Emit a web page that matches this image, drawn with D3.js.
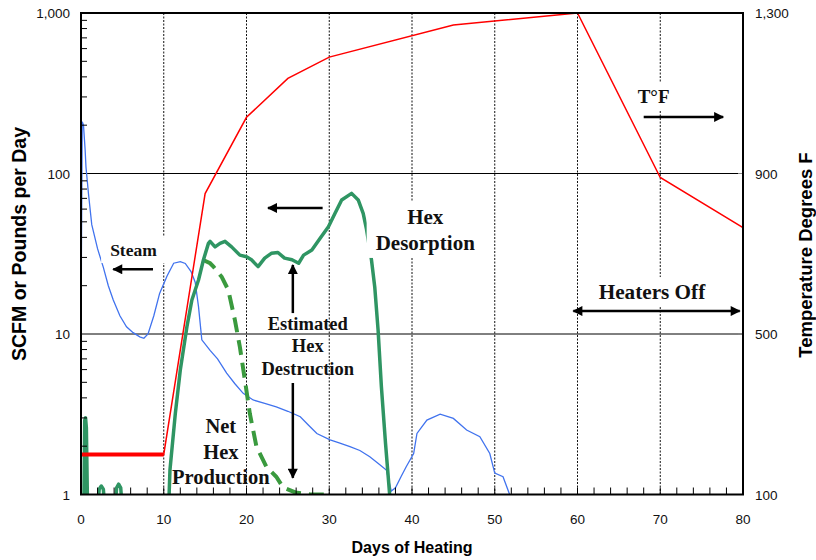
<!DOCTYPE html>
<html>
<head>
<meta charset="utf-8">
<script src="https://cdn.jsdelivr.net/npm/d3@7"></script>
<style>
  body { margin: 0; background: #fff; }
  svg { display: block; }
</style>
</head>
<body>
<div id="chart"></div>
<script>
// steam flow (left axis, log)
const steamDays = [0, 0.05, 0.15, 0.3, 0.5, 0.6, 0.9, 1.3, 2.0, 2.7, 3.3, 3.9, 4.7, 5.5, 6.3, 7.1, 7.6, 8.1, 8.8, 9.5,
  10.4, 11.2, 12.0, 12.6, 13.3, 13.8, 14.2, 14.6, 15.6, 16.5, 17.6, 18.6, 19.6, 20.8, 22.2, 23.6, 25.0, 26.5, 27.5, 28.5,
  30.1, 31.2, 32.5, 33.7, 34.9, 36.0, 36.9, 37.5, 38.0, 38.7, 39.3, 40.2, 40.6, 41.8, 43.4, 45.0, 46.6, 48.2, 49.4, 50.0, 51.0, 51.8]
const steamValues = [1, 30, 210, 200, 140, 110, 75, 48, 34, 26, 20, 16.3, 13, 11.1, 10.2, 9.6, 9.4, 10, 13, 17.9,
  23, 27.6, 28.2, 27.5, 24.5, 21, 14.8, 9.2, 7.9, 7.0, 5.7, 4.9, 4.27, 3.88, 3.7, 3.52, 3.3, 3.05, 2.7, 2.4,
  2.19, 2.1, 1.99, 1.88, 1.72, 1.55, 1.42, 1.05, 1.1, 1.3, 1.49, 1.8, 2.4, 2.91, 3.17, 2.98, 2.52, 2.29, 1.8, 1.36, 1.29, 1.0]

// hex desorption (solid green)
const desorbDays = [0.3, 0.45, 0.55, 0.65, 0.85, 2.0, 2.2, 2.45, 2.7, 2.9, 4.1, 4.3, 4.55, 4.8, 5.0, 10.5, 10.75, 11.4, 12.0, 12.8,
  13.4, 14.2, 14.8, 15.4, 15.6, 16.2, 16.8, 17.4, 18.2, 19.2, 20.0, 20.6, 21.4, 22.2, 23.0, 23.8, 24.6, 25.5, 26.3, 26.9,
  27.9, 28.9, 29.9, 30.7, 31.5, 32.7, 33.5, 34.1, 34.5, 35.1, 35.5, 35.9, 36.3, 36.8, 37.3]
const desorbValues = [0.5, 2.9, 3, 2.6, 0.5, 0.8, 1.08, 1.13, 1.08, 0.8, 0.8, 1.1, 1.16, 1.1, 0.8, 0.6, 1.42, 3.2, 5.97, 11.1,
  16.3, 21.7, 29, 36.7, 37.8, 34.9, 36.7, 37.8, 34.9, 31, 30.3, 29, 26.3, 29.7, 31.8, 32.2, 29.7, 29, 27.6, 31,
  33.4, 39.5, 46.6, 56.5, 68.4, 75.2, 68.4, 56.5, 45, 29, 19.6, 10.6, 4.7, 2.08, 1.0]

// net hex production (dashed green)
const productionDays = [14.7, 15.6, 16.0, 17.0, 17.8, 18.6, 19.2, 19.8, 20.4, 21.2, 22.4, 23.6, 24.4, 25.9, 27.7, 29.5]
const productionValues = [29, 27.6, 26.3, 22.7, 18.8, 12.2, 8.3, 5.18, 3.2, 1.99, 1.49, 1.29, 1.11, 1.03, 1.0, 1.0]

// temperature (right axis)
const tempDays = [0, 10, 15, 20, 25, 30, 45, 60, 70, 80]
const tempValues = [200, 200, 850, 1040, 1137, 1190, 1270, 1300, 890, 765]

const leftTicks = [1, 10, 100, 1000]
const rightTicks = [100, 500, 900, 1300]
const dayTicks = [0, 10, 20, 30, 40, 50, 60, 70, 80]

const width = 816
const height = 560
const margin = {top: 13, right: 73, bottom: 65.5, left: 81}
const plotW = width - margin.left - margin.right
const plotH = height - margin.top - margin.bottom

const sans = "'Liberation Sans', Arial, sans-serif"
const serif = "'Liberation Serif', 'Times New Roman', serif"

let svg = d3.select("#chart").append("svg")
  .attr("width", width)
  .attr("height", height)

let defs = svg.append("defs")
defs.append("clipPath").attr("id", "plotclip")
  .append("rect").attr("width", plotW).attr("height", plotH)
defs.append("marker")
  .attr("id", "head")
  .attr("viewBox", "0 0 10 10")
  .attr("refX", 9).attr("refY", 5)
  .attr("markerWidth", 4.4).attr("markerHeight", 4)
  .attr("markerUnits", "strokeWidth")
  .attr("orient", "auto-start-reverse")
  .append("path").attr("d", "M0,0 L10,5 L0,10 Z").attr("fill", "#000")

let g = svg.append("g").attr("transform", "translate(" + margin.left + "," + margin.top + ")")

let xScale = d3.scaleLinear().domain([0, 80]).range([0, plotW])
let yScale = d3.scaleLog().domain([1, 1000]).range([plotH, 0])
let tScale = d3.scaleLinear().domain([100, 1300]).range([plotH, 0])

// gridlines
g.selectAll(".hgrid").data([10, 100]).enter().append("line")
  .attr("x1", 0).attr("x2", plotW)
  .attr("y1", d => yScale(d)).attr("y2", d => yScale(d))
  .attr("stroke", "#000").attr("stroke-width", 1)
g.selectAll(".vgrid").data([10, 20, 30, 40, 50, 60, 70]).enter().append("line")
  .attr("x1", d => xScale(d)).attr("x2", d => xScale(d))
  .attr("y1", 0).attr("y2", plotH)
  .attr("stroke", "#111").attr("stroke-width", 1)
  .attr("stroke-dasharray", "2,1.5")

// series
let series = g.append("g").attr("clip-path", "url(#plotclip)")
let logLine = d3.line().x(d => xScale(d[0])).y(d => yScale(d[1]))
let tempLine = d3.line().x(d => xScale(d[0])).y(d => tScale(d[1]))

series.append("path")
  .datum(d3.zip(steamDays, steamValues))
  .attr("d", logLine)
  .attr("fill", "none").attr("stroke", "#4173ee").attr("stroke-width", 1.3)

series.append("path")
  .datum(d3.zip(productionDays, productionValues))
  .attr("d", logLine)
  .attr("fill", "none").attr("stroke", "#3a9a3e").attr("stroke-width", 4)
  .attr("stroke-dasharray", "15,8")

series.append("path")
  .datum(d3.zip(desorbDays, desorbValues))
  .attr("d", logLine)
  .attr("fill", "none").attr("stroke", "#2f9563").attr("stroke-width", 3.5)
  .attr("stroke-linejoin", "round")

let temps = d3.zip(tempDays, tempValues)
series.append("path")
  .datum(temps)
  .attr("d", tempLine)
  .attr("fill", "none").attr("stroke", "#ff0000").attr("stroke-width", 1.5)
series.append("path")
  .datum(temps.slice(0, 2))
  .attr("d", tempLine)
  .attr("fill", "none").attr("stroke", "#ff0000").attr("stroke-width", 4)

// annotations: text with a white box behind, positions in data units (first baseline)
let notes = [
  {lines: ["Steam"], x: 6.34, y: 30.6, size: 17.5, gap: 0, box: true},
  {lines: ["Hex", "Desorption"], x: 41.6, y: 48.5, size: 21, gap: 26, box: true},
  {lines: ["Estimated", "Hex", "Destruction"], x: 27.4, y: 10.6, size: 18.5, gap: 22.5, box: false},
  {lines: ["Net", "Hex", "Production"], x: 16.9, y: 2.4, size: 20.5, gap: 25.5, box: false},
  {lines: ["T\u00b0F"], x: 69.2, y: 275, size: 19, gap: 0, box: true},
  {lines: ["Heaters Off"], x: 69, y: 16.5, size: 21.2, gap: 0, box: true}
]
let noteLayer = g.append("g")
notes.forEach(function(n) {
  let grp = noteLayer.append("g")
  let txt = grp.append("text")
    .attr("font-family", serif)
    .attr("font-weight", "bold")
    .attr("font-size", n.size)
    .attr("text-anchor", "middle")
    .attr("fill", "#111")
  n.lines.forEach(function(l, i) {
    txt.append("tspan")
      .attr("x", xScale(n.x))
      .attr("y", yScale(n.y) + i * n.gap)
      .text(l)
  })
  if (n.box) {
    let b = txt.node().getBBox()
    grp.insert("rect", "text")
      .attr("x", b.x - 9).attr("y", b.y - 3)
      .attr("width", b.width + 18).attr("height", b.height + 6)
      .attr("fill", "#fff")
  }
})

let arrows = [
  {x1: 8.7, y1: 25.3, x2: 3.9, y2: 25.3, both: false},
  {x1: 29.2, y1: 61, x2: 22.6, y2: 61, both: false},
  {x1: 25.6, y1: 13.5, x2: 25.6, y2: 26.9, both: false},
  {x1: 25.6, y1: 4.95, x2: 25.6, y2: 1.27, both: false},
  {x1: 68.0, y1: 225, x2: 77.6, y2: 225, both: false},
  {x1: 59.5, y1: 13.9, x2: 79.6, y2: 13.9, both: true}
]
noteLayer.selectAll(".arrow").data(arrows).enter().append("line")
  .attr("class", "arrow")
  .attr("x1", d => xScale(d.x1)).attr("y1", d => yScale(d.y1))
  .attr("x2", d => xScale(d.x2)).attr("y2", d => yScale(d.y2))
  .attr("stroke", "#000").attr("stroke-width", 2.5)
  .attr("marker-end", "url(#head)")
  .attr("marker-start", d => d.both ? "url(#head)" : null)

// minor ticks, inside the frame
let minor = []
;[1, 10, 100].forEach(function(dec) {
  for (let k = 2; k <= 9; k++) minor.push(dec * k)
})
g.selectAll(".ytick").data(minor).enter().append("line")
  .attr("x1", 0).attr("x2", 6)
  .attr("y1", d => yScale(d)).attr("y2", d => yScale(d))
  .attr("stroke", "#000").attr("stroke-width", 1)
g.selectAll(".xtick").data(d3.range(2, 80, 2)).enter().append("line")
  .attr("x1", d => xScale(d)).attr("x2", d => xScale(d))
  .attr("y1", plotH).attr("y2", plotH - 7)
  .attr("stroke", "#000").attr("stroke-width", 1)
g.selectAll(".rtick").data([500, 900]).enter().append("line")
  .attr("x1", plotW - 5).attr("x2", plotW)
  .attr("y1", d => tScale(d)).attr("y2", d => tScale(d))
  .attr("stroke", "#888").attr("stroke-width", 1)

// frame
g.append("rect")
  .attr("width", plotW).attr("height", plotH)
  .attr("fill", "none").attr("stroke", "#000").attr("stroke-width", 2)

// tick labels
let fmt = d3.format(",")
g.selectAll(".ylab").data(leftTicks).enter().append("text")
  .attr("x", -11).attr("y", d => yScale(d) + 5)
  .attr("text-anchor", "end")
  .attr("font-family", sans).attr("font-size", 13.5).attr("fill", "#111")
  .text(d => fmt(d))
g.selectAll(".tlab").data(rightTicks).enter().append("text")
  .attr("x", plotW + 12).attr("y", d => tScale(d) + 5)
  .attr("font-family", sans).attr("font-size", 13.5).attr("fill", "#111")
  .text(d => fmt(d))
g.selectAll(".xlab").data(dayTicks).enter().append("text")
  .attr("x", d => xScale(d)).attr("y", plotH + 29)
  .attr("text-anchor", "middle")
  .attr("font-family", sans).attr("font-size", 13.5).attr("fill", "#111")
  .text(d => d)

// axis titles
svg.append("text")
  .attr("x", 412).attr("y", 553)
  .attr("text-anchor", "middle")
  .attr("font-family", sans).attr("font-weight", "bold").attr("font-size", 16)
  .text("Days of Heating")
svg.append("text")
  .attr("transform", "translate(26,244) rotate(-90)")
  .attr("text-anchor", "middle")
  .attr("font-family", sans).attr("font-weight", "bold").attr("font-size", 19.5)
  .text("SCFM or Pounds per Day")
svg.append("text")
  .attr("transform", "translate(812,255) rotate(-90)")
  .attr("text-anchor", "middle")
  .attr("font-family", sans).attr("font-weight", "bold").attr("font-size", 18.5)
  .text("Temperature Degrees F")
</script>
</body>
</html>
